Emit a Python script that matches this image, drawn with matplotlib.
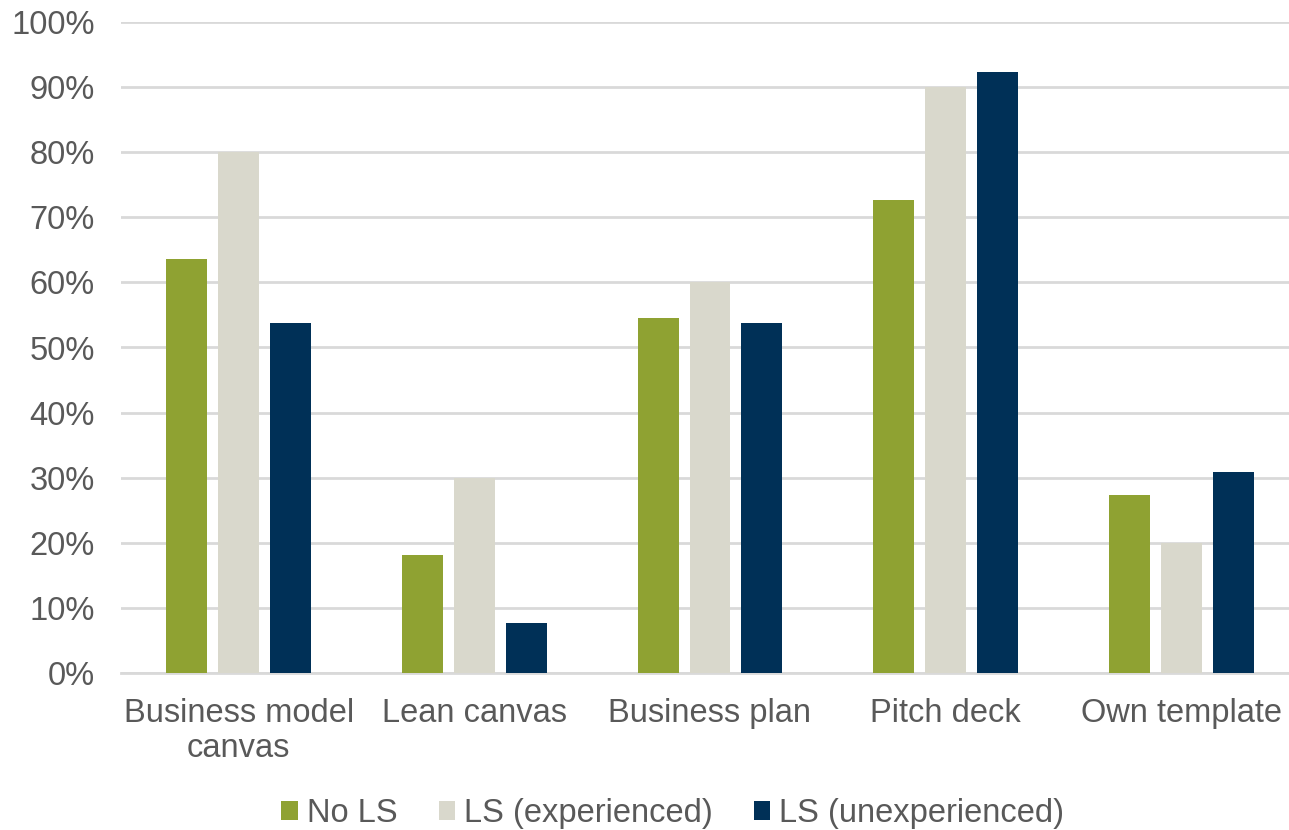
import matplotlib
matplotlib.use("Agg")
import matplotlib.pyplot as plt
import numpy as np
from matplotlib.ticker import PercentFormatter

categories = ["Business model\ncanvas", "Lean canvas", "Business plan", "Pitch deck", "Own template"]
series_names = ["No LS", "LS (experienced)", "LS (unexperienced)"]
no_ls = [63.6, 18.2, 54.5, 72.7, 27.3]
ls_exp = [80.0, 30.0, 60.0, 90.0, 20.0]
ls_unexp = [53.8, 7.7, 53.8, 92.3, 30.8]
colors = ["#8FA232", "#D9D8CC", "#003057"]

plt.rcParams['font.family'] = ['Liberation Sans', 'DejaVu Sans']
text_color = "#595959"

fig = plt.figure(figsize=(12.89, 8.30), dpi=100)
ax = fig.add_axes([121/1289, 1 - 673/830, (1299-121)/1289, (673-22)/830])

x = np.arange(len(categories))
width = 0.174
step = 0.22
for i, (vals, name, c) in enumerate(zip([no_ls, ls_exp, ls_unexp], series_names, colors)):
    ax.bar(x + (i - 1) * step, vals, width, color=c, label=name, zorder=3)

ax.set_ylim(0, 100)
ax.set_xlim(-0.5, 4.5)
ax.set_yticks(np.arange(0, 101, 10))
ax.yaxis.set_major_formatter(PercentFormatter(decimals=0))
ax.grid(axis='y', color='#D9D9D9', linewidth=2, zorder=0)
for s in ['top', 'right', 'left']:
    ax.spines[s].set_visible(False)
ax.spines['bottom'].set_color('#D9D9D9')
ax.spines['bottom'].set_linewidth(2)
ax.set_xticks(x)
ax.set_xticklabels(categories, linespacing=1.15)
ax.tick_params(axis='both', length=0, labelsize=23.5, colors=text_color)
ax.tick_params(axis='x', pad=18)
ax.tick_params(axis='y', pad=19)

leg = fig.legend(loc='lower center', bbox_to_anchor=(0.522, -0.034), ncol=3, frameon=False,
                 fontsize=23.5, handlelength=0.5, handleheight=0.5, handletextpad=0.28,
                 columnspacing=1.26)
for t in leg.get_texts():
    t.set_color(text_color)

fig.savefig("out.png", dpi=100)
